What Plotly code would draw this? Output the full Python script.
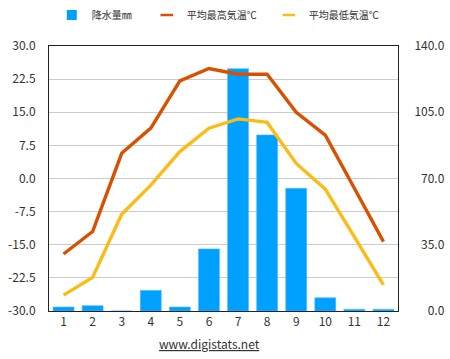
import plotly.graph_objects as go

months = [1, 2, 3, 4, 5, 6, 7, 8, 9, 10, 11, 12]
precip_mm = [2.1, 2.8, 0.0, 10.9, 2.1, 32.8, 128.0, 93.0, 64.8, 7.0, 0.9, 0.9]
max_temp = [-17.1, -12.0, 5.7, 11.4, 22.1, 24.9, 23.6, 23.6, 15.0, 9.8, -2.2, -14.3]
min_temp = [-26.4, -22.4, -8.1, -1.5, 6.1, 11.4, 13.5, 12.7, 3.4, -2.4, -13.2, -24.1]

left_ticks = [-30, -22.5, -15, -7.5, 0, 7.5, 15, 22.5, 30]
right_ticks = [0, 35, 70, 105, 140]
right_tick_text = ["\u2007\u20070.0", "\u200735.0", "\u200770.0", "105.0", "140.0"]

names = ["降水量㎜", "平均最高気温℃", "平均最低気温℃"]
BLUE = "#00a0ff"
ORANGE = "#d95000"
YELLOW = "#fbbc17"
FONT = "Noto Sans CJK JP"

fig = go.Figure()

# precipitation bars on primary axis (right side)
fig.add_trace(go.Bar(x=months, y=precip_mm, name=names[0], marker=dict(color=BLUE, line=dict(color="#4dbbff", width=0.6)),
                     width=0.72, yaxis="y", showlegend=False))
# temperature lines on overlaying axis (left side)
fig.add_trace(go.Scatter(x=months, y=max_temp, name=names[1], mode="lines",
                         line=dict(color=ORANGE, width=3.4), yaxis="y2", showlegend=False))
fig.add_trace(go.Scatter(x=months, y=min_temp, name=names[2], mode="lines",
                         line=dict(color=YELLOW, width=3.4), yaxis="y2", showlegend=False))

# legend entries
fig.add_trace(go.Scatter(x=[None], y=[None], name=names[0] + "\u2003", mode="markers",
                         marker=dict(symbol="square", size=10, color=BLUE), yaxis="y"))
fig.add_trace(go.Scatter(x=[None], y=[None], name=names[1] + "\u2002\u2009", mode="markers",
                         marker=dict(symbol="line-ew", size=9, line=dict(color=ORANGE, width=2.5)), yaxis="y"))
fig.add_trace(go.Scatter(x=[None], y=[None], name=names[2], mode="markers",
                         marker=dict(symbol="line-ew", size=9, line=dict(color=YELLOW, width=2.5)), yaxis="y"))

fig.update_layout(
    width=450, height=359,
    margin=dict(l=49, r=52, t=46, b=48, autoexpand=False),
    paper_bgcolor="white", plot_bgcolor="white",
    font=dict(family=FONT, size=12, color="#333333"),
    showlegend=True,
    legend=dict(orientation="h", x=0.008, xanchor="left",
                y=1.117, yanchor="middle",
                font=dict(size=10, color="#333333"), itemwidth=30, tracegroupgap=0,
                bgcolor="rgba(0,0,0,0)"),
    xaxis=dict(range=[0.5, 12.5], tickmode="array", tickvals=months, ticktext=[str(m) for m in months],
               showgrid=False, showline=True, linecolor="#222222", linewidth=1, mirror=True,
               ticks="", zeroline=False, tickfont=dict(size=12, color="#333333")),
    yaxis=dict(range=[0, 140], side="right", tickmode="array", tickvals=right_ticks, ticktext=right_tick_text,
               showgrid=True, gridcolor="#cccccc", gridwidth=1, showline=True, linecolor="#222222",
               linewidth=1, zeroline=False, ticks="", ticklabelstandoff=13,
               tickfont=dict(size=12, color="#333333")),
    yaxis2=dict(range=[-30, 30], side="left", overlaying="y", tickmode="array", tickvals=left_ticks,
                ticktext=[f"{v:.1f}" for v in left_ticks],
                showgrid=True, gridcolor="#cccccc", gridwidth=1, showline=True, linecolor="#222222",
                linewidth=1, zeroline=False, ticks="", ticklabelstandoff=10,
                tickfont=dict(size=12, color="#333333")),
    bargap=0.28,
    annotations=[dict(text="<u>www.digistats.net</u>", xref="paper", yref="paper", x=0.461, y=-0.121,
                      xanchor="center", yanchor="middle", showarrow=False,
                      font=dict(size=12, color="#333333"))],
)

fig.write_html("out.html", config={"displayModeBar": False},
               post_script="document.body.style.margin='0';")
